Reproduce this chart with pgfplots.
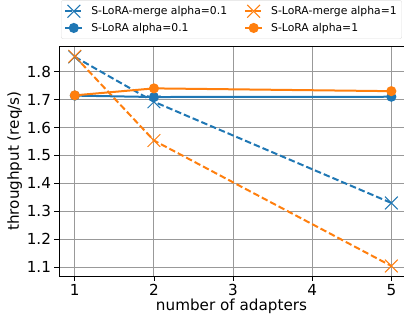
\documentclass[border=0pt]{standalone}
\usepackage{pgfplots}
\pgfplotsset{compat=1.18}
\usepackage{fontspec}
\setmainfont{DejaVu Sans}
\definecolor{tabblue}{HTML}{1F77B4}
\definecolor{taborange}{HTML}{FF7F0E}
\begin{document}
\begin{tikzpicture}
\begin{axis}[
  name=ax,
  scale only axis,
  width=345pt, height=230pt,
  xmin=0.8, xmax=5.16,
  ymin=1.068, ymax=1.893,
  xtick={1,2,3,4,5},
  ytick={1.1,1.2,1.3,1.4,1.5,1.6,1.7,1.8},
  yticklabel style={/pgf/number format/fixed,/pgf/number format/precision=1,/pgf/number format/fixed zerofill},
  /pgf/number format/assume math mode=true,
  tick label style={font=\fontsize{15.2}{16}\selectfont},
  label style={font=\fontsize{15.2}{16}\selectfont},
  xlabel={number of adapters},
  ylabel={throughput (req/s)},
  ylabel shift=-2pt,
  xlabel style={yshift=3pt},
  grid=major,
  major grid style={gray!80, line width=1pt},
  axis line style={line width=0.9pt},
  tick style={black, line width=0.9pt},
  tick align=outside,
  xtick pos=bottom, ytick pos=left,
  major tick length=4.5pt,
  legend columns=2,
  legend style={at={(0.5,1)}, yshift=7pt, anchor=south, font=\fontsize{10.8}{12}\selectfont,
    draw=gray!25, rounded corners=2pt,
    /tikz/every even column/.append style={column sep=15pt},
    /tikz/every odd column/.append style={column sep=6pt},
    inner xsep=3pt, inner ysep=4pt, row sep=3pt},
  legend cell align=left,
]
\addplot[tabblue, line width=2pt, dash pattern=on 6.5pt off 3pt, mark=x, mark size=9pt, mark options={solid, line width=1pt}]
  coordinates {(1,1.854) (2,1.693) (5,1.330)};
\addlegendentry{S-LoRA-merge alpha=0.1}
\addplot[taborange, line width=2pt, dash pattern=on 6.5pt off 3pt, mark=x, mark size=9pt, mark options={solid, line width=1pt}]
  coordinates {(1,1.856) (2,1.554) (5,1.104)};
\addlegendentry{S-LoRA-merge alpha=1}
\addplot[tabblue, line width=2pt, mark=*, mark size=4pt]
  coordinates {(1,1.715) (2,1.710) (5,1.711)};
\addlegendentry{S-LoRA alpha=0.1}
\addplot[taborange, line width=2pt, mark=*, mark size=4pt]
  coordinates {(1,1.716) (2,1.741) (5,1.731)};
\addlegendentry{S-LoRA alpha=1}
\end{axis}
\pgfresetboundingbox
\path ([xshift=-59pt,yshift=-47pt]ax.south west) rectangle ([yshift=46pt]ax.north east);
\end{tikzpicture}
\end{document}
